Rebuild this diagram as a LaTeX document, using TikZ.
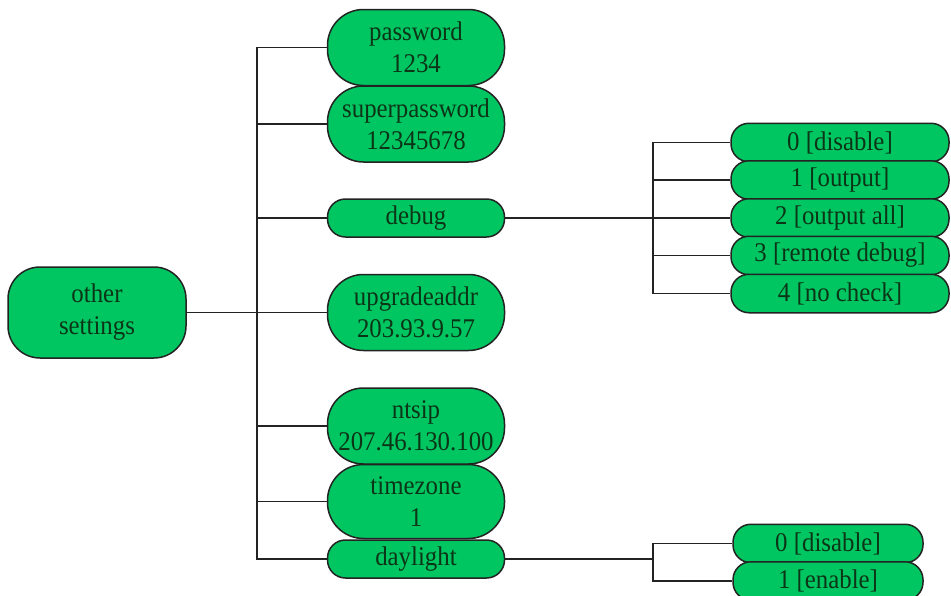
\documentclass[tikz,border=0pt]{standalone}
\usepackage{fontspec}
\setmainfont{Liberation Serif}[FakeStretch=0.92]
\definecolor{boxgreen}{RGB}{0,198,98}
\definecolor{txtgreen}{RGB}{12,52,22}
\definecolor{edge}{RGB}{35,35,35}
\tikzset{
  box/.style={draw=edge, line width=1.5pt, fill=boxgreen, text=txtgreen,
    inner sep=0pt, align=center, minimum width=177pt,
    font=\fontsize{27}{32}\selectfont},
  tall/.style={box, minimum height=76pt, rounded corners=36pt},
  flat/.style={box, minimum height=38pt, rounded corners=18pt},
  sub/.style={box, minimum height=38.5pt, rounded corners=18pt},
  conn/.style={draw=edge, line width=1.8pt}
}
\begin{document}
\begin{tikzpicture}[x=1pt,y=-1pt]
\useasboundingbox[fill=white] (0,0) rectangle (951,595);
\coordinate (tx) at (257,0);
\coordinate (sx) at (653,0);
% connectors first (drawn under boxes)
\coordinate (osE) at (186,312.5);
% main nodes
\node[box, minimum width=178pt, minimum height=91pt, rounded corners=32pt] (os) at (97,312.5) {other\\settings};
\node[tall] (pw) at (416,47.5) {password\\1234};
\node[tall] (sp) at (416,124) {superpassword\\12345678};
\node[flat] (dbg) at (416,218) {debug};
\node[tall] (up) at (416,312.5) {upgradeaddr\\203.93.9.57};
\node[tall] (nt) at (416,426) {ntsip\\207.46.130.100};
\node[tall, minimum height=74pt] (tz) at (416,501.5) {timezone\\1};
\node[flat] (dl) at (416,559) {daylight};
% debug options
\node[sub, minimum width=218pt] (d0) at (840,142.5) {0 [disable]};
\node[sub, minimum width=218pt] (d1) at (840,180) {1 [output]};
\node[sub, minimum width=218pt] (d2) at (840,218) {2 [output all]};
\node[sub, minimum width=218pt] (d3) at (840,255.5) {3 [remote debug]};
\node[sub, minimum width=218pt] (d4) at (840,293.5) {4 [no check]};
% daylight options
\node[sub, minimum width=190pt] (e0) at (828,543.5) {0 [disable]};
\node[sub, minimum width=190pt] (e1) at (828,581) {1 [enable]};
% connectors
\foreach \c in {pw,sp,dbg,up,nt,tz,dl}{
  \draw[conn] (os.east) -- (os.east -| tx) |- (\c.west);
}
\foreach \c in {d0,d1,d2,d3,d4}{
  \draw[conn] (dbg.east) -- (dbg.east -| sx) |- (\c.west);
}
\foreach \c in {e0,e1}{
  \draw[conn] (dl.east) -- (dl.east -| sx) |- (\c.west);
}
\end{tikzpicture}
\end{document}
